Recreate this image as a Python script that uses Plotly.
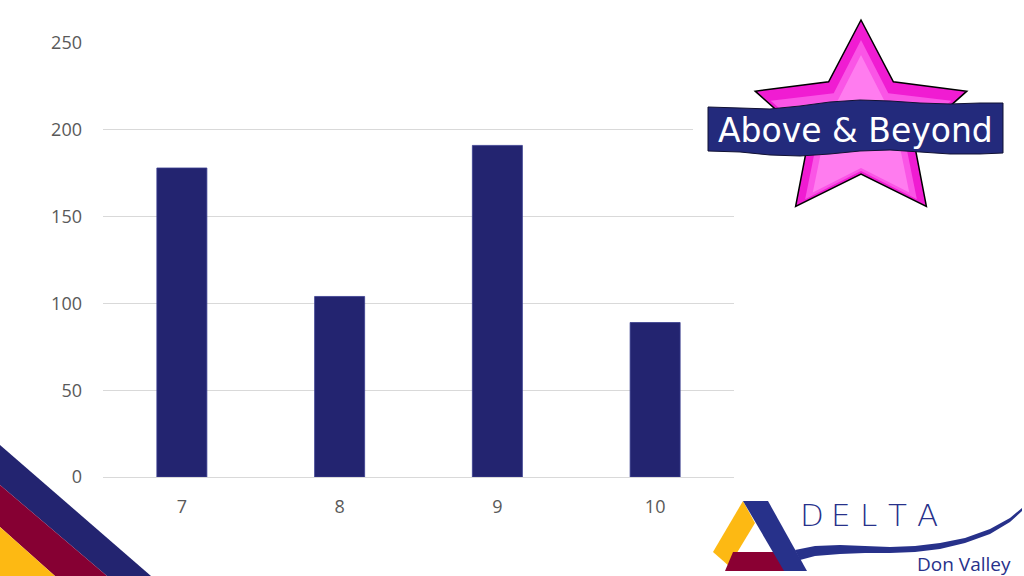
import math
import plotly.graph_objects as go

# ---- data ----
categories = ["7", "8", "9", "10"]
values = [178, 104, 191, 89]
y_ticks = [0, 50, 100, 150, 200, 250]

W, H = 1024, 576
L, R, T, B = 103, 290, 43, 99
PW, PH = W - L - R, H - T - B

NAVY = "#232470"
LOGO = "#27318A"
GRID = "#D9D9D9"
TICK = "#595959"


def px(x):
    return (x - L) / PW


def py(y):
    return (H - B - y) / PH


def path_from(points, close=True):
    s = "M " + " L ".join(f"{px(x):.5f},{py(y):.5f}" for x, y in points)
    return s + (" Z" if close else "")


fig = go.Figure()
fig.add_trace(go.Bar(
    x=categories, y=values, marker=dict(color=NAVY, line=dict(color="#3A3D8F", width=0.8)),
    hoverinfo="x+y",
))

shapes = []

# white backdrop of the star picture (covers gridlines)
shapes.append(dict(type="rect", xref="paper", yref="paper", layer="above",
                   x0=px(693), x1=px(1024), y0=py(212), y1=py(12),
                   fillcolor="white", line=dict(width=0)))


def star_points(cx, cy, Ro, Ri, sx=1.0):
    pts = []
    for k in range(10):
        ang = math.radians(90 + 36 * k)
        r = Ro if k % 2 == 0 else Ri
        pts.append((cx + sx * r * math.cos(ang), cy - r * math.sin(ang)))
    return pts


cx, cy = 861, 123
shapes.append(dict(type="path", xref="paper", yref="paper", layer="above",
                   path=path_from(star_points(cx, cy, 103, 51, 1.08)),
                   fillcolor="#F01CD2", line=dict(color="black", width=1.5)))
shapes.append(dict(type="path", xref="paper", yref="paper", layer="above",
                   path=path_from(star_points(cx, cy + 5, 88, 43, 1.08)),
                   fillcolor="#FA55E6", line=dict(width=0)))
shapes.append(dict(type="path", xref="paper", yref="paper", layer="above",
                   path=path_from(star_points(cx, cy + 8, 76, 37, 1.08)),
                   fillcolor="#FF7CEF", line=dict(width=0)))

# banner
def bpath():
    pts = [(708, 107), (740, 108), (770, 109), (800, 106), (830, 102), (860, 100),
           (890, 101), (920, 103), (950, 104), (980, 103), (1003, 103),
           (1003, 153), (980, 154), (950, 154), (920, 152), (890, 150), (860, 151),
           (830, 154), (800, 156), (770, 155), (740, 152), (708, 151)]
    return path_from(pts)


shapes.append(dict(type="path", xref="paper", yref="paper", layer="above",
                   path=bpath(), fillcolor="#232A7C",
                   line=dict(color="#111133", width=1)))

# bottom-left stripes
shapes.append(dict(type="path", xref="paper", yref="paper", layer="above",
                   path=path_from([(0, 445), (151, 576), (107, 576), (0, 485)]),
                   fillcolor=NAVY, line=dict(width=0)))
shapes.append(dict(type="path", xref="paper", yref="paper", layer="above",
                   path=path_from([(0, 485), (107, 576), (55, 576), (0, 527)]),
                   fillcolor="#860033", line=dict(width=0)))
shapes.append(dict(type="path", xref="paper", yref="paper", layer="above",
                   path=path_from([(0, 527), (55, 576), (0, 576)]),
                   fillcolor="#FDB913", line=dict(width=0)))

# Delta logo
shapes.append(dict(type="path", xref="paper", yref="paper", layer="above",
                   path=path_from([(743, 501), (755, 523), (729, 566), (713, 552)]),
                   fillcolor="#FDB913", line=dict(width=0)))
shapes.append(dict(type="path", xref="paper", yref="paper", layer="above",
                   path=path_from([(733, 552), (779, 552), (787, 571), (725, 571)]),
                   fillcolor="#8A0033", line=dict(width=0)))
shapes.append(dict(type="path", xref="paper", yref="paper", layer="above",
                   path=path_from([(743, 501), (768, 501), (807, 571), (784, 571)]),
                   fillcolor=LOGO, line=dict(width=0)))
# swoosh
sw_top = [(795, 550), (815, 546), (840, 545), (865, 546), (890, 547), (915, 546),
          (940, 543), (965, 538), (990, 529), (1010, 518), (1022, 508)]
sw_bot = [(1022, 511), (1010, 522), (990, 534), (965, 543), (940, 549), (915, 552),
          (890, 553), (865, 553), (840, 554), (815, 556), (800, 560)]
shapes.append(dict(type="path", xref="paper", yref="paper", layer="above",
                   path=path_from(sw_top + sw_bot), fillcolor=LOGO,
                   line=dict(width=0)))

annotations = [dict(x=px(855), y=py(130), xref="paper", yref="paper",
                    xanchor="center", yanchor="middle",
                    text="Above &amp; Beyond", showarrow=False,
                    font=dict(family="DejaVu Sans", size=33, color="white"))]

for letter, lx in zip("DELTA", [812, 841, 868, 897, 927]):
    annotations.append(dict(x=px(lx), y=py(515), xref="paper", yref="paper",
                            xanchor="center", yanchor="middle",
                            text=letter, showarrow=False,
                            font=dict(family="DejaVu Sans", size=31, color=LOGO,
                                      weight=200)))
annotations.append(dict(x=px(964), y=py(564), xref="paper", yref="paper",
                        xanchor="center", yanchor="middle",
                        text="Don Valley", showarrow=False,
                        font=dict(family="Open Sans", size=19, color=LOGO)))

fig.update_layout(
    width=W, height=H, autosize=False,
    margin=dict(l=L, r=R, t=T, b=B, pad=0),
    paper_bgcolor="white", plot_bgcolor="white",
    showlegend=False, bargap=0.683,
    shapes=shapes, annotations=annotations,
    font=dict(family="Open Sans", color=TICK, size=18),
    xaxis=dict(type="category", showgrid=False, zeroline=False, showline=True,
               linecolor=GRID, linewidth=1, ticks="", ticklabelstandoff=13,
               tickfont=dict(size=18, color=TICK)),
    yaxis=dict(range=[0, 250], tickvals=y_ticks, showgrid=True, gridcolor=GRID,
               gridwidth=1, zeroline=False, showline=False, ticks="",
               ticklabelstandoff=20, tickfont=dict(size=18, color=TICK)),
)

fig.write_html("out.html", config={"displayModeBar": False},
               post_script="document.body.style.margin='0px';document.body.style.overflow='hidden';")
